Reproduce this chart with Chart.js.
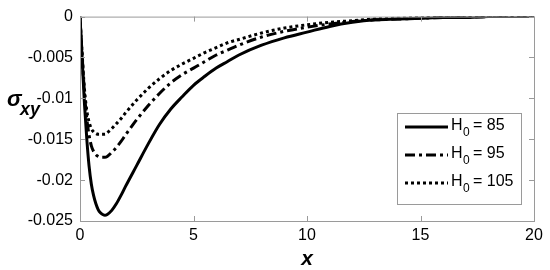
<!DOCTYPE html>
<html lang="en">

<head>
    <meta charset="UTF-8">
    <title>sigma xy</title>
    <style>
        body { margin: 0; background: #fff; }
    </style>
</head>

<body>
    <canvas id="myChart" width="550" height="270"></canvas>
    <script src="https://cdn.jsdelivr.net/npm/chart.js"></script>
    <script>
        // data
        const xValues = [0, 0.1, 0.2, 0.3, 0.4, 0.5, 0.6, 0.7, 0.8, 0.9, 1.0, 1.1, 1.2, 1.4, 1.6, 1.8, 2.0, 2.5, 3, 3.5,
            4, 4.5, 5, 5.5, 6, 6.5, 7, 8, 9, 10, 11, 12, 13, 14, 15, 16, 17, 18, 19, 20];
        const h85 = [0, -0.0055, -0.0108, -0.0150, -0.0183, -0.0205, -0.0219, -0.0229, -0.0236, -0.0240, -0.0242,
            -0.0243, -0.0242, -0.0237, -0.0229, -0.0219, -0.0208, -0.0182, -0.0156, -0.0132,
            -0.0113, -0.0098, -0.0084, -0.0073, -0.0063, -0.0055, -0.0047, -0.0035, -0.0026, -0.0019,
            -0.0012, -0.0007, -0.0004, -0.0003, -0.0002, -0.0001, -0.0001, 0, 0, 0];
        const h95 = [0, -0.0050, -0.0095, -0.0125, -0.0145, -0.0158, -0.0165, -0.0169, -0.0171, -0.0172, -0.0172,
            -0.0172, -0.0171, -0.0166, -0.0160, -0.0153, -0.0145, -0.0126, -0.0109, -0.0094,
            -0.0081, -0.0071, -0.0063, -0.0055, -0.0047, -0.0041, -0.0035, -0.0025, -0.0018, -0.0013,
            -0.0009, -0.0006, -0.0004, -0.0003, -0.0002, -0.0001, -0.0001, 0, 0, 0];
        const h105 = [0, -0.0048, -0.0090, -0.0115, -0.0129, -0.0137, -0.0141, -0.0143, -0.0144, -0.0144, -0.0144,
            -0.0144, -0.0142, -0.0137, -0.0131, -0.0125, -0.0118, -0.0102, -0.0088, -0.0076,
            -0.0066, -0.0058, -0.0051, -0.0044, -0.0038, -0.0032, -0.0028, -0.0020, -0.0014, -0.0010,
            -0.0007, -0.0005, -0.0003, -0.0002, -0.0001, -0.0001, 0, 0, 0, 0];
        const seriesNames = ['85', '95', '105'];
        const xTicks = [0, 5, 10, 15, 20];
        const yTicks = [0, -0.005, -0.01, -0.015, -0.02, -0.025];

        const FONT = "'Liberation Sans', Arial, sans-serif";
        const dashes = [[], [10, 4, 3, 4], [3, 3]];

        function pts(arr) {
            return xValues.map(function (x, i) { return { x: x, y: arr[i] }; });
        }

        // frame, inward ticks, y title, legend box
        const extras = {
            id: 'extras',
            afterDatasetsDraw(chart) {
                const ctx = chart.ctx;
                const a = chart.chartArea;
                const xs = chart.scales.x, ys = chart.scales.y;
                ctx.save();
                ctx.strokeStyle = '#9a9a9a';
                ctx.lineWidth = 1;
                ctx.strokeRect(a.left + 0.5, a.top + 0.5, a.right - a.left, a.bottom - a.top);
                ctx.beginPath();
                xTicks.forEach(function (v) {
                    const px = Math.round(xs.getPixelForValue(v)) + 0.5;
                    ctx.moveTo(px, a.bottom); ctx.lineTo(px, a.bottom - 5);
                    ctx.moveTo(px, a.top); ctx.lineTo(px, a.top + 5);
                });
                yTicks.forEach(function (v) {
                    const py = Math.round(ys.getPixelForValue(v)) + 0.5;
                    ctx.moveTo(a.left, py); ctx.lineTo(a.left + 5, py);
                    ctx.moveTo(a.right, py); ctx.lineTo(a.right - 5, py);
                });
                ctx.stroke();

                // y axis title  sigma_xy
                ctx.fillStyle = '#000';
                ctx.textBaseline = 'alphabetic';
                ctx.textAlign = 'left';
                ctx.font = "italic bold 22px " + FONT;
                ctx.fillText('σ', 7, 106);
                ctx.font = "italic bold 18px " + FONT;
                ctx.fillText('xy', 20, 115);

                // legend
                const bx = 397, by = 113, bw = 124, bh = 91;
                ctx.fillStyle = '#fff';
                ctx.fillRect(bx, by, bw, bh);
                ctx.strokeStyle = '#9a9a9a';
                ctx.strokeRect(bx + 0.5, by + 0.5, bw, bh);
                chart.data.datasets.forEach(function (ds, i) {
                    const ly = 127 + i * 28;
                    ctx.strokeStyle = '#000';
                    ctx.lineWidth = 3;
                    ctx.setLineDash(ds.borderDash);
                    ctx.beginPath();
                    ctx.moveTo(405, ly); ctx.lineTo(448, ly);
                    ctx.stroke();
                    ctx.setLineDash([]);
                    ctx.fillStyle = '#000';
                    ctx.font = "16px " + FONT;
                    ctx.fillText('H', 451, ly + 3);
                    ctx.font = "12px " + FONT;
                    ctx.fillText('0', 463, ly + 9);
                    ctx.font = "16px " + FONT;
                    ctx.fillText('= ' + seriesNames[i], 473, ly + 3);
                });
                ctx.restore();
            }
        };

        const ctx = document.getElementById('myChart');
        const mychart = new Chart(ctx, {
            type: 'line',
            data: {
                datasets: [h85, h95, h105].map(function (arr, i) {
                    return {
                        label: 'H0 = ' + seriesNames[i],
                        data: pts(arr),
                        borderColor: '#000',
                        borderWidth: 3,
                        borderDash: dashes[i],
                        pointRadius: 0,
                        cubicInterpolationMode: 'monotone',
                        fill: false
                    };
                })
            },
            options: {
                responsive: false,
                animation: false,
                layout: { padding: { left: 0, right: 16, top: 14, bottom: 0 } },
                plugins: { legend: { display: false }, tooltip: { enabled: false } },
                scales: {
                    x: {
                        type: 'linear',
                        min: 0,
                        max: 20,
                        afterBuildTicks: function (s) { s.ticks = xTicks.map(function (v) { return { value: v }; }); },
                        afterFit: function (s) { s.height = 49; },
                        grid: { display: false, drawTicks: false },
                        border: { display: false },
                        ticks: {
                            color: '#000', padding: 5, maxRotation: 0,
                            font: { family: FONT, size: 16 },
                            callback: function (v) { return String(v); }
                        },
                        title: {
                            display: true, text: 'x', color: '#000',
                            font: { family: FONT, size: 21, style: 'italic', weight: 'bold', lineHeight: 1 },
                            padding: { top: 0, bottom: 0 }
                        }
                    },
                    y: {
                        min: -0.025,
                        max: 0,
                        afterBuildTicks: function (s) { s.ticks = yTicks.map(function (v) { return { value: v }; }); },
                        afterFit: function (s) { s.width = 80; },
                        grid: { display: false, drawTicks: false },
                        border: { display: false },
                        ticks: {
                            color: '#000', padding: 7,
                            font: { family: FONT, size: 16 },
                            callback: function (v) { return String(v); }
                        }
                    }
                }
            },
            plugins: [extras]
        });
    </script>
</body>

</html>
